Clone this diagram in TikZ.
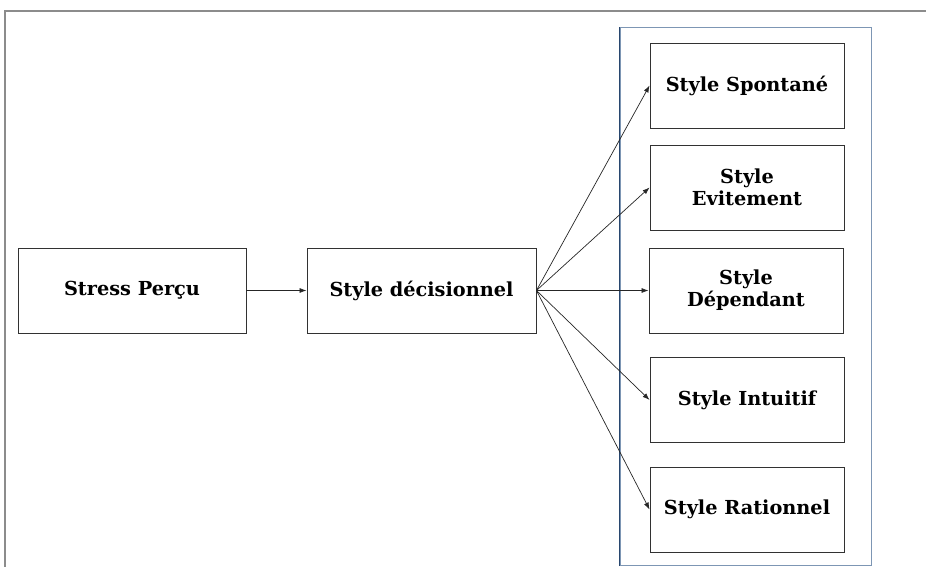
\documentclass[tikz,border=0pt]{standalone}
\usepackage{fontspec}
\setmainfont{DejaVu Serif}
\usetikzlibrary{arrows.meta}
\definecolor{framegray}{RGB}{140,140,140}
\definecolor{contblue}{RGB}{125,150,180}
\definecolor{contdark}{RGB}{40,70,110}
\definecolor{boxline}{RGB}{50,50,50}
\tikzset{
  stylebox/.style={draw=boxline, line width=0.9pt, minimum width=194pt, minimum height=85pt,
    align=center, font=\fontsize{19.3}{22}\selectfont\bfseries, inner sep=0pt},
  leftbox/.style={stylebox, minimum width=228pt},
  conn/.style={draw=black!85, line width=0.7pt, -{Latex[length=7pt,width=5pt]}},
}
\begin{document}
\begin{tikzpicture}[x=1pt,y=-1pt]
\useasboundingbox (0,0) rectangle (926,567);
% outer frame
\draw[framegray, line width=1.5pt] (5,567) -- (5,11) -- (926,11);
% container
\node[draw=contblue, line width=1pt, minimum width=251pt, minimum height=538pt, inner sep=0pt] (cont) at (745.5,296.5) {};
\draw[contdark, line width=1pt] (cont.south west) -- (cont.north west);
% nodes
\node[leftbox] (stress) at (132,290.5) {Stress Perçu};
\node[stylebox, minimum width=229pt] (dec) at (421.5,290.5) {Style décisionnel};
\node[stylebox] (spon) at (747,85.5) {Style Spontané};
\node[stylebox] (evit) at (747,187.5) {Style\\Evitement};
\node[stylebox] (dep) at (746,290.5) {Style\\Dépendant};
\node[stylebox] (intu) at (747,400) {Style Intuitif};
\node[stylebox] (rat) at (747,509.5) {Style Rationnel};
% connectors
\draw[conn] (stress.east) -- (dec.west);
\draw[conn] (dec.east) -- (spon.west);
\draw[conn] (dec.east) -- (evit.west);
\draw[conn] (dec.east) -- (dep.west);
\draw[conn] (dec.east) -- (intu.west);
\draw[conn] (dec.east) -- (rat.west);
\end{tikzpicture}
\end{document}
